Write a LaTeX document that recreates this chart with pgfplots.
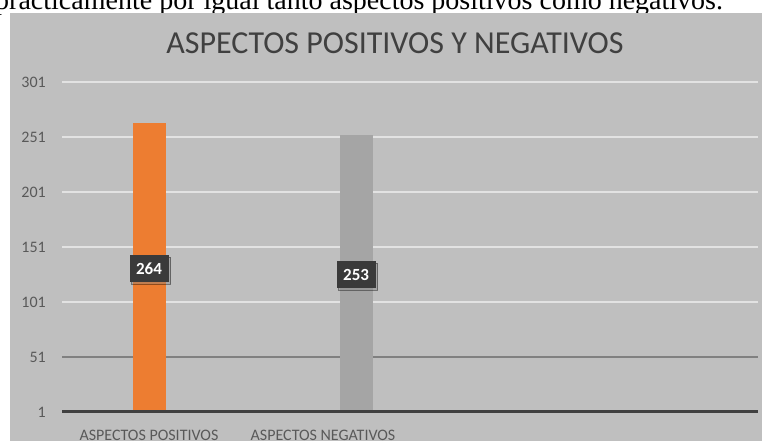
\documentclass[border=0pt]{standalone}
\usepackage{fontspec}
\setmainfont{Carlito}
\newfontfamily\serifbody{Liberation Serif}
\usepackage{pgfplots}
\pgfplotsset{compat=1.18}
\usetikzlibrary{shadows}
\definecolor{bg}{HTML}{BFBFBF}
\definecolor{titlegray}{HTML}{404040}
\definecolor{ticklab}{HTML}{595959}
\definecolor{barorange}{HTML}{ED7D31}
\definecolor{bargray}{HTML}{A5A5A5}
\definecolor{gridlight}{HTML}{E2E2E2}
\definecolor{griddark}{HTML}{808080}
\definecolor{axisdark}{HTML}{404040}
\definecolor{labelbg}{HTML}{3A3A3A}
\begin{document}
\begin{tikzpicture}
\useasboundingbox (0,0) rectangle (762pt,441pt);
\clip (0,0) rectangle (762pt,441pt);
\fill[white] (0,0) rectangle (762pt,441pt);
\node[anchor=base west, inner sep=0pt, font=\serifbody\fontsize{28}{30}\selectfont] at (-5pt,431.5pt) {prácticamente por igual tanto aspectos positivos como negativos.};
\fill[bg] (10pt,0) rectangle (762pt,428pt);
\node[anchor=base, inner sep=0pt, font=\fontsize{32}{36}\selectfont, text=titlegray] at (395pt,387pt) {ASPECTOS POSITIVOS Y NEGATIVOS};
\begin{axis}[
  at={(62pt,29pt)}, anchor=south west,
  scale only axis, width=696pt, height=330pt,
  xmin=0, xmax=4, ymin=1, ymax=301,
  ytick={101,151,...,301}, extra y ticks={51},
  extra y tick style={grid style={draw=griddark, line width=1.2pt}},
  xtick={0.5,1.5}, xticklabels={ASPECTOS POSITIVOS, ASPECTOS NEGATIVOS},
  axis line style={draw=none},
  major tick length=0pt,
  ymajorgrids, grid style={draw=gridlight, line width=1.2pt},
  yticklabel style={anchor=east, inner sep=0pt, xshift=-16pt, text=ticklab, font=\fontsize{16}{16}\selectfont},
  xticklabel style={anchor=north, inner sep=0pt, yshift=-18pt, text=ticklab, font=\fontsize{16}{16}\selectfont},
  /pgf/number format/assume math mode=true,
  clip=true,
]
\addplot[ybar, fill=barorange, draw=none, bar width=33pt, bar shift=0pt] coordinates {(0.5,264)};
\addplot[ybar, fill=bargray, draw=none, bar width=33pt, bar shift=0pt] coordinates {(1.69,253)};
\addplot[only marks, mark=none, nodes near coords, point meta=explicit symbolic,
  every node near coord/.style={anchor=center, fill=labelbg, text=white,
    font=\bfseries\fontsize{17}{17}\selectfont, minimum width=39pt, minimum height=27pt,
    inner sep=0pt, drop shadow={opacity=0.4, shadow xshift=2pt, shadow yshift=-2pt}}]
  coordinates {(0.5,131.5)[264] (1.69,126)[253]};
\end{axis}
\node[anchor=east, inner sep=0pt, text=ticklab, font=\fontsize{16}{16}\selectfont] at (46pt,29pt) {1};
\draw[axisdark, line width=3pt] (62pt,29pt) -- (758pt,29pt);
\end{tikzpicture}
\end{document}
